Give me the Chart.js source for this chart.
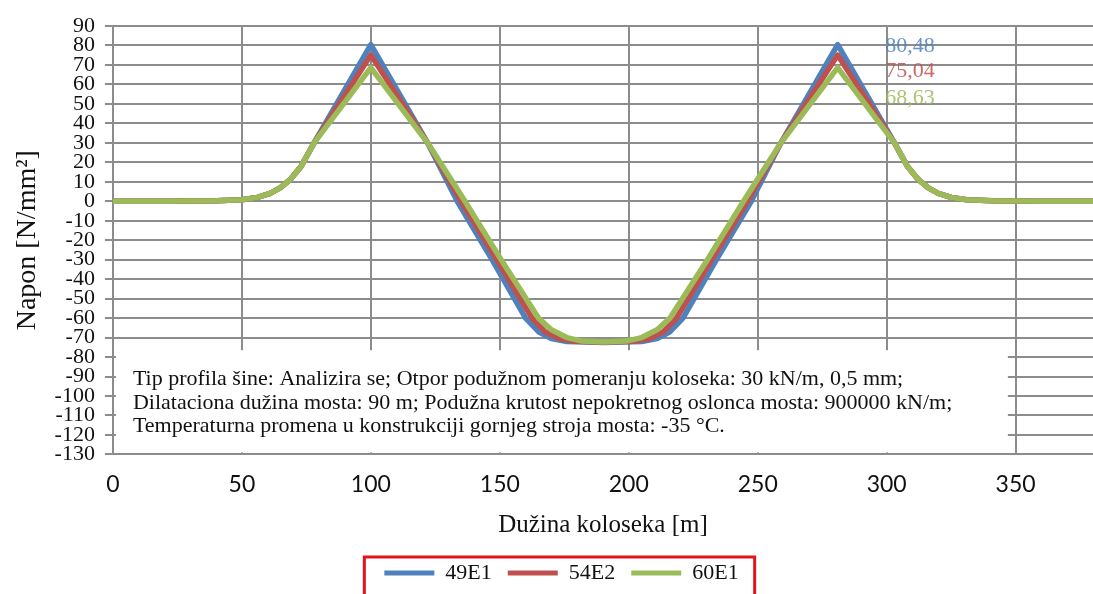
<!DOCTYPE html>
<html>
<head>
<meta charset="utf-8">
<script src="https://cdn.jsdelivr.net/npm/chart.js@4.4.0/dist/chart.umd.min.js"></script>
<style>
  html, body { margin: 0; padding: 0; background: #fff; }
</style>
</head>
<body>
<canvas id="napon_chart" width="1093" height="594"></canvas>
<script>
// serije i boje
const seriesNames = ['49E1', '54E2', '60E1'];
const seriesColors = ['#4f81bd', '#c0504d', '#9bbb59'];
const peakLabels = ['80,48', '75,04', '68,63'];

// 49E1
const x49E1 = [0, 20, 40, 50, 56, 61, 65, 69, 73, 78, 100, 122, 133.5, 147, 160, 165, 170, 176, 190.5, 205, 211, 216, 221, 234, 247.5, 259, 281, 303, 308, 312, 316, 320, 325, 331, 341, 361, 380];
const y49E1 = [0, 0, 0.2, 0.8, 2, 4, 7, 11.5, 18, 30, 80.48, 30, 0, -30, -60, -67, -70.5, -72, -72.5, -72, -70.5, -67, -60, -30, 0, 30, 80.48, 30, 18, 11.5, 7, 4, 2, 0.8, 0.2, 0, 0];
// 54E2
const x54E2 = [0, 20, 40, 50, 56, 61, 65, 69, 73, 78, 100, 122, 135, 148.8, 162.5, 167.5, 173, 179, 190.5, 202, 208, 213.5, 218.5, 232.2, 246, 259, 281, 303, 308, 312, 316, 320, 325, 331, 341, 361, 380];
const y54E2 = [0, 0, 0.2, 0.8, 2, 4, 7, 11.5, 18, 30, 75.04, 30, 0, -30, -60, -67, -70.5, -71.9, -72.4, -71.9, -70.5, -67, -60, -30, 0, 30, 75.04, 30, 18, 11.5, 7, 4, 2, 0.8, 0.2, 0, 0];
// 60E1
const x60E1 = [0, 20, 40, 50, 56, 61, 65, 69, 73, 78, 100, 122, 136.5, 150.5, 165, 170, 176, 182, 190.5, 199, 205, 211, 216, 230.5, 244.5, 259, 281, 303, 308, 312, 316, 320, 325, 331, 341, 361, 380];
const y60E1 = [0, 0, 0.2, 0.8, 2, 4, 7, 11.5, 18, 30, 68.63, 30, 0, -30, -60, -66, -70, -71.8, -72.3, -71.8, -70, -66, -60, -30, 0, 30, 68.63, 30, 18, 11.5, 7, 4, 2, 0.8, 0.2, 0, 0];

const noteLines = [
  'Tip profila šine: Analizira se; Otpor podužnom pomeranju koloseka: 30 kN/m, 0,5 mm;',
  'Dilataciona dužina mosta: 90 m; Podužna krutost nepokretnog oslonca mosta: 900000 kN/m;',
  'Temperaturna promena u konstrukciji gornjeg stroja mosta: -35 °C.'
];

const SERIF = '"Liberation Serif", "DejaVu Serif", serif';
const SANS = 'Lato, "Liberation Sans", sans-serif';
const GRID = '#8c8c8c';
const LEGEND_SHIFT = 15;

function toPoints(xs, ys) {
  return xs.map((x, i) => ({x, y: ys[i]}));
}

const allX = [x49E1, x54E2, x60E1];
const allY = [y49E1, y54E2, y60E1];

const datasets = seriesNames.map((name, i) => ({
  label: name,
  data: toPoints(allX[i], allY[i]),
  borderColor: seriesColors[i],
  backgroundColor: seriesColors[i],
  borderWidth: 5.5,
  pointRadius: 0,
  tension: 0,
  borderJoinStyle: 'round',
  borderCapStyle: 'round',
  order: 3 - i
}));

// bijeli okvir s tekstom + oznake vrhova + crveni okvir legende
const notePlugin = {
  id: 'notePlugin',
  afterUpdate(chart) {
    // legenda je u originalu malo desno od sredine
    const lg = chart.legend;
    lg.left += LEGEND_SHIFT;
    lg.right += LEGEND_SHIFT;
  },
  beforeDatasetsDraw(chart) {
    const {ctx, scales: {x, y}, chartArea} = chart;
    const left = x.getPixelForValue(0) + 3;
    const right = x.getPixelForValue(347);
    const top = y.getPixelForValue(-76.5);
    const bottom = chartArea.bottom - 2;
    ctx.save();
    ctx.fillStyle = '#fff';
    ctx.fillRect(left, top, right - left, bottom - top);
    ctx.fillStyle = '#111';
    ctx.font = '22px ' + SERIF;
    ctx.textBaseline = 'middle';
    noteLines.forEach((t, i) => ctx.fillText(t, left + 17, top + 29 + i * 23.5));
    ctx.restore();
  },
  afterDatasetsDraw(chart) {
    const {ctx, scales: {x, y}} = chart;
    const lx = x.getPixelForValue(309);
    const ly = [79.6, 66.6, 53];
    ctx.save();
    ctx.font = '22px ' + SERIF;
    ctx.textAlign = 'center';
    ctx.textBaseline = 'middle';
    ctx.globalAlpha = 0.85;
    peakLabels.forEach((t, i) => {
      ctx.fillStyle = seriesColors[i];
      ctx.fillText(t, lx, y.getPixelForValue(ly[i]));
    });
    ctx.restore();
  },
  afterDraw(chart) {
    const boxes = chart.legend.legendHitBoxes;
    if (!boxes || !boxes.length) return;
    const minL = Math.min(...boxes.map(b => b.left)) + LEGEND_SHIFT;
    const maxR = Math.max(...boxes.map(b => b.left + b.width)) + LEGEND_SHIFT;
    const topB = Math.min(...boxes.map(b => b.top));
    const {ctx} = chart;
    ctx.save();
    ctx.strokeStyle = '#e3131b';
    ctx.lineWidth = 3;
    ctx.strokeRect(minL - 20, topB - 5, (maxR - minL) + 36, 60);
    ctx.restore();
  }
};

const ctx = document.getElementById('napon_chart');
new Chart(ctx, {
  type: 'line',
  data: { datasets },
  plugins: [notePlugin],
  options: {
    responsive: false,
    animation: false,
    layout: { padding: { top: 26, left: 0, right: 0, bottom: 0 } },
    plugins: {
      tooltip: { enabled: false },
      legend: {
        position: 'bottom',
        labels: {
          font: { family: SERIF, size: 22 },
          color: '#111',
          boxWidth: 50,
          boxHeight: 5,
          padding: 16,
          generateLabels(chart) {
            const items = Chart.defaults.plugins.legend.labels.generateLabels(chart);
            return items
              .sort((a, b) => a.datasetIndex - b.datasetIndex)
              .map(it => Object.assign(it, { lineWidth: 0 }));
          }
        }
      }
    },
    scales: {
      x: {
        type: 'linear',
        min: 0,
        max: 380,
        afterBuildTicks(scale) {
          scale.ticks = scale.ticks.filter(t => t.value % 50 === 0);
        },
        ticks: {
          stepSize: 50,
          font: { family: SANS, size: 23 },
          color: '#111',
          padding: 16,
          maxRotation: 0
        },
        grid: { color: GRID, lineWidth: 2, drawTicks: false },
        border: { color: GRID, width: 2 },
        title: {
          display: true,
          text: 'Dužina koloseka [m]',
          font: { family: SERIF, size: 25 },
          color: '#111',
          padding: { top: -4, bottom: 6 }
        }
      },
      y: {
        min: -130,
        max: 90,
        ticks: {
          stepSize: 10,
          autoSkip: false,
          font: { family: SERIF, size: 22, lineHeight: 0.9 },
          color: '#111',
          padding: 10
        },
        grid: { color: GRID, lineWidth: 2, tickLength: 8 },
        border: { color: GRID, width: 2 },
        title: {
          display: true,
          text: 'Napon [N/mm²]',
          font: { family: SERIF, size: 28 },
          color: '#111',
          padding: { top: 11, bottom: 0 }
        }
      }
    }
  }
});
</script>
</body>
</html>
